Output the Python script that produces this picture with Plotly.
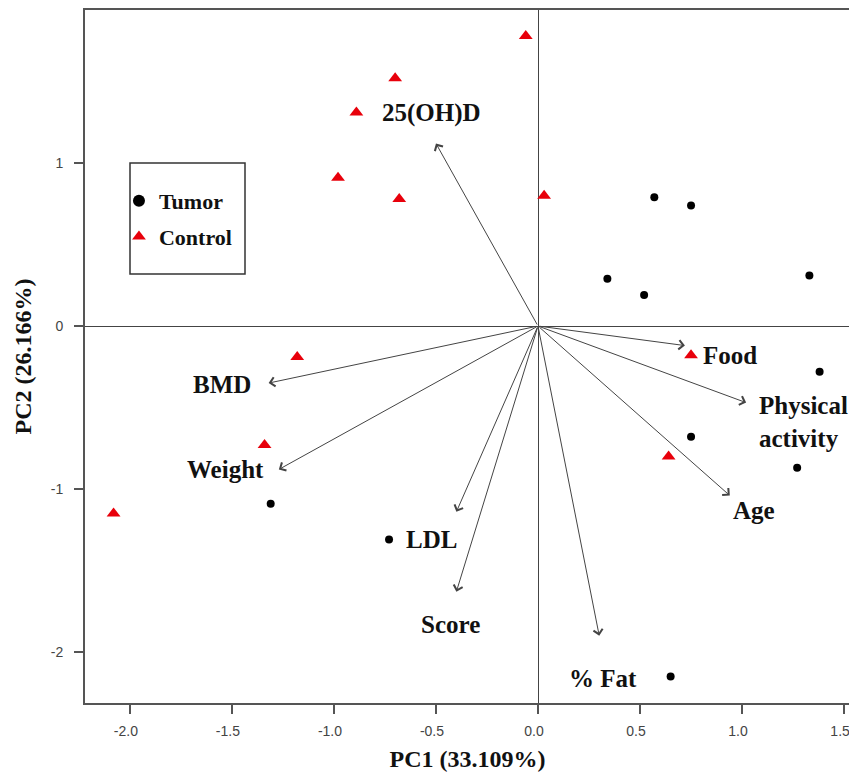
import plotly.graph_objects as go

# Scores
tumor_x = [0.57, 0.75, 0.34, 0.52, 1.33, 1.38, 0.75, 1.27, 0.65, -1.31, -0.73]
tumor_y = [0.79, 0.74, 0.29, 0.19, 0.31, -0.28, -0.68, -0.87, -2.15, -1.09, -1.31]
control_x = [-0.06, -0.70, -0.89, -0.98, -0.68, 0.03, -1.18, -1.34, -2.08, 0.75, 0.64]
control_y = [1.78, 1.52, 1.31, 0.91, 0.78, 0.80, -0.19, -0.73, -1.15, -0.18, -0.80]

# Loadings (arrow tips)
var_names = ["25(OH)D", "BMD", "Weight", "LDL", "Score", "% Fat", "Food", "Physical<br>activity", "Age"]
load_x = [-0.50, -1.32, -1.27, -0.40, -0.40, 0.30, 0.72, 1.02, 0.94]
load_y = [1.12, -0.35, -0.88, -1.14, -1.63, -1.90, -0.12, -0.47, -1.04]
label_x = [-0.52, -1.55, -1.53, -0.52, -0.43, 0.32, 0.94, 1.30, 1.06]
label_y = [1.31, -0.36, -0.88, -1.31, -1.83, -2.16, -0.18, -0.59, -1.13]

x_ticks = [-2.0, -1.5, -1.0, -0.5, 0.0, 0.5, 1.0, 1.5]
x_tick_text = ["-2.0", "-1.5", "-1.0", "-0.5", "0.0", "0.5", "1.0", "1.5"]
y_ticks = [1, 0, -1, -2]
y_tick_text = ["1", "0", "-1", "-2"]

serif = "Liberation Serif, Times New Roman, serif"
sans = "Liberation Sans, Arial, sans-serif"

fig = go.Figure()
fig.add_trace(go.Scatter(
    x=tumor_x, y=tumor_y, mode="markers", name="<b>Tumor</b>", legendgroup="t",
    marker=dict(symbol="circle", size=8, color="black"),
))
fig.add_trace(go.Scatter(
    x=control_x, y=control_y, mode="markers", name="<b>Control</b>", legendgroup="c",
    marker=dict(symbol="triangle-up", size=12, color="#e8000b"),
))

annotations = []
for lx, ly in zip(load_x, load_y):
    annotations.append(dict(
        x=lx, y=ly, ax=0, ay=0, xref="x", yref="y", axref="x", ayref="y",
        text="", showarrow=True, arrowhead=4, arrowsize=1.8, arrowwidth=1,
        arrowcolor="#444444", standoff=0, startstandoff=0,
    ))
for name, tx, ty in zip(var_names, label_x, label_y):
    annotations.append(dict(
        x=tx, y=ty, xref="x", yref="y", text="<b>" + name + "</b>", showarrow=False,
        font=dict(family=serif, size=25, color="#111111"), align="left",
    ))

# The page body adds an 8px offset; the figure is sized to fit the window.
fig.update_layout(
    width=849, height=764,
    margin=dict(l=77, r=7, t=2, b=69),
    paper_bgcolor="white", plot_bgcolor="white",
    showlegend=True,
    legend=dict(
        x=0.0444, y=0.7547, xanchor="left", yanchor="top",
        font=dict(family=serif, size=22, color="#111111"),
        bgcolor="rgba(0,0,0,0)", borderwidth=0,
        itemsizing="constant", tracegroupgap=4, itemwidth=30,
    ),
    annotations=annotations,
    shapes=[dict(
        type="rect", xref="paper", yref="paper",
        x0=(130 - 85) / 765, x1=(245 - 85) / 765,
        y0=(703 - 274) / 693, y1=(703 - 163) / 693,
        line=dict(color="#333333", width=1.5), fillcolor="rgba(0,0,0,0)",
    )],
    xaxis=dict(
        range=[-2.22, 1.529], tickvals=x_ticks, ticktext=x_tick_text,
        ticks="outside", ticklen=9, tickcolor="#555", tickwidth=1.5,
        showgrid=False, zeroline=True, zerolinecolor="#444", zerolinewidth=1.2,
        showline=True, mirror=True, linecolor="#555", linewidth=2,
        tickfont=dict(family=sans, size=14, color="#444"), ticklabelstandoff=5,
        ticklabelshift=-4, ticklabeloverflow="allow",
        automargin=False,
        title=dict(text="<b>PC1 (33.109%)</b>", font=dict(family=serif, size=24, color="#111"), standoff=13),
    ),
    yaxis=dict(
        range=[-2.313, 1.939], tickvals=y_ticks, ticktext=y_tick_text,
        ticks="outside", ticklen=9, tickcolor="#555", tickwidth=1.5,
        showgrid=False, zeroline=True, zerolinecolor="#444", zerolinewidth=1.2,
        showline=True, mirror=True, linecolor="#555", linewidth=2,
        tickfont=dict(family=sans, size=14, color="#444"), ticklabelstandoff=8,
        automargin=False,
        title=dict(text="<b>PC2 (26.166%)</b>", font=dict(family=serif, size=24, color="#111"), standoff=12),
    ),
)

fig.write_html("out.html")
